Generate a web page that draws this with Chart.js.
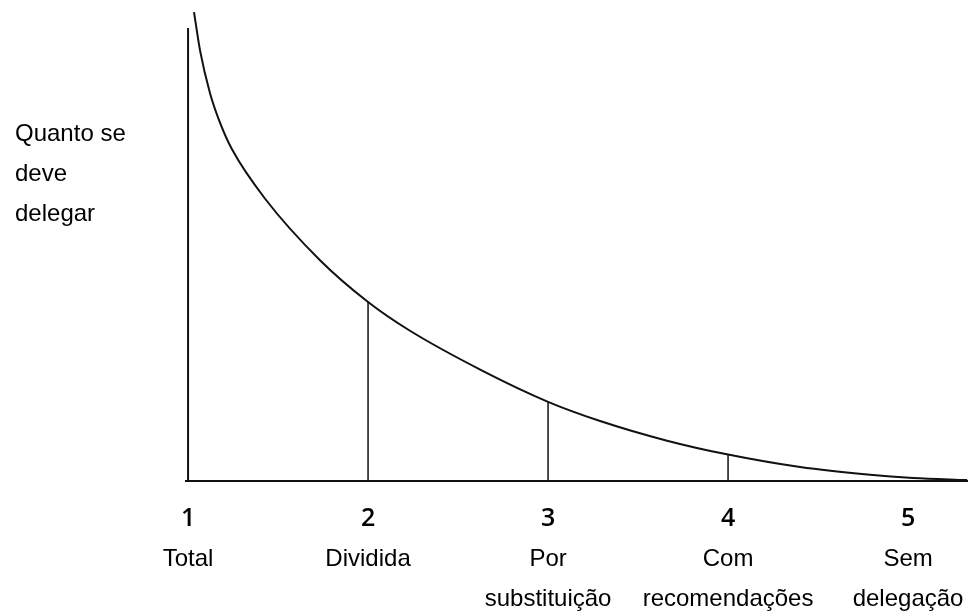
<!DOCTYPE html>
<html>
<head>
<meta charset="utf-8">
<script src="https://cdn.jsdelivr.net/npm/chart.js@4"></script>
<style>
html,body{margin:0;padding:0;background:#fff;}
#wrap{width:968px;height:616px;position:relative;}
</style>
</head>
<body>
<div id="wrap"><canvas id="c" width="968" height="616"></canvas></div>
<script>
// Categories (levels of delegation) and their numbers
const levelNumbers = ['1', '2', '3', '4', '5'];
const levelNames = [['Total'], ['Dividida'], ['Por', 'substituição'], ['Com', 'recomendações'], ['Sem', 'delegação']];
const yAxisTitle = ['Quanto se', 'deve', 'delegar'];

// Curve "quanto se deve delegar"
const curveX = [1.033, 1.067, 1.122, 1.178, 1.244, 1.428, 1.733, 2.0, 2.233, 2.639, 3.0, 3.289, 3.661, 4.0, 4.4, 4.789, 5.028, 5.328];
const curveY = [97.7, 89.6, 80.8, 74.6, 69.1, 58.8, 46.0, 37.3, 31.3, 22.9, 16.5, 12.5, 8.4, 5.5, 2.9, 1.3, 0.65, 0.19];

// Vertical lines at each level (height reached)
const dropX = [1, 2, 3, 4];
const dropY = [94.4, 37.4, 16.5, 5.5];

// Horizontal baseline extent
const baseX = [0.983, 5.333];

const ink = '#111';
const datasets = [];
datasets.push({
  label: 'curve',
  data: curveX.map((x, i) => ({x: x, y: curveY[i]})),
  borderColor: ink, borderWidth: 2, pointRadius: 0,
  cubicInterpolationMode: 'monotone', fill: false, clip: false
});
dropX.forEach((x, i) => {
  datasets.push({
    label: 'drop' + i,
    data: [{x: x, y: 0}, {x: x, y: dropY[i]}],
    borderColor: ink, borderWidth: i === 0 ? 2 : 1.5, pointRadius: 0, fill: false, clip: false
  });
});
datasets.push({
  label: 'base',
  data: baseX.map(x => ({x: x, y: 0})),
  borderColor: ink, borderWidth: 2, pointRadius: 0, fill: false, clip: false
});

const labelPlugin = {
  id: 'labels',
  afterDraw(chart) {
    const ctx = chart.ctx;
    const xs = chart.scales.x;
    ctx.save();
    ctx.fillStyle = '#000';
    ctx.textAlign = 'center';
    ctx.textBaseline = 'alphabetic';
    levelNumbers.forEach((n, i) => {
      const px = xs.getPixelForValue(i + 1);
      ctx.font = '600 25px "Open Sans", sans-serif';
      ctx.fillText(n, px, 526);
      ctx.font = '24px "Liberation Sans", Arial, sans-serif';
      levelNames[i].forEach((line, j) => {
        ctx.fillText(line, px, 566 + j * 40);
      });
    });
    ctx.textAlign = 'left';
    ctx.font = '24px "Liberation Sans", Arial, sans-serif';
    yAxisTitle.forEach((line, j) => {
      ctx.fillText(line, 15, 141 + j * 40);
    });
    ctx.restore();
  }
};

new Chart(document.getElementById('c'), {
  type: 'line',
  data: {datasets: datasets},
  options: {
    responsive: false,
    animation: false,
    layout: {padding: {left: 185, right: 0, top: 1, bottom: 135}},
    plugins: {legend: {display: false}, tooltip: {enabled: false}},
    scales: {
      x: {type: 'linear', min: 0.983, max: 5.333, display: false},
      y: {type: 'linear', min: 0, max: 100, display: false}
    }
  },
  plugins: [labelPlugin]
});
</script>
</body>
</html>
